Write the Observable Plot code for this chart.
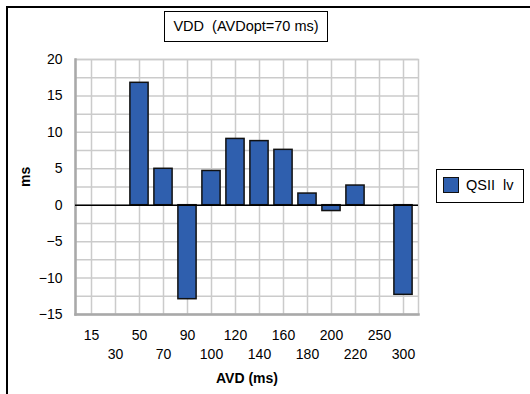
<!DOCTYPE html>
<html>
<head>
<meta charset="utf-8">
<script src="https://cdn.jsdelivr.net/npm/d3@7"></script>
<script src="https://cdn.jsdelivr.net/npm/@observablehq/plot@0.6"></script>
<style>
  html, body { margin: 0; padding: 0; background: #fff; }
  #wrap { position: relative; width: 530px; height: 394px; overflow: hidden; font-family: "Liberation Sans", Arial, sans-serif; }
  #outer { position: absolute; left: 6px; top: 6px; width: 700px; height: 700px; border-left: 2px solid #000; border-top: 2px solid #000; box-sizing: border-box; }
  #title { position: absolute; left: 164px; top: 11px; width: 164px; height: 31px; box-sizing: border-box; border: 1.5px solid #000; background: #fff;
           font-size: 14.5px; line-height: 28px; text-align: center; white-space: pre; color: #000; }
  #legend { position: absolute; left: 436px; top: 169px; width: 88px; height: 34px; box-sizing: border-box; border: 1.5px solid #000; background: #fff;
            font-size: 14.5px; white-space: pre; color: #000; }
  #legend .sw { position: absolute; left: 6px; top: 7px; width: 16px; height: 16px; box-sizing: border-box; border: 1.5px solid #111; }
  #legend .lab { position: absolute; left: 29px; top: 6px; line-height: 18px; }
  #chart { position: absolute; left: 0; top: 0; }
</style>
</head>
<body>
<div id="wrap">
  <div id="outer"></div>
  <div id="chart"></div>
  <div id="title"></div>
  <div id="legend"><div class="sw"></div><div class="lab"></div></div>
</div>
<script>
// ---- data ----
const titleText = "VDD  (AVDopt=70 ms)";
const seriesName = "QSII  lv";
const xLabel = "AVD (ms)";
const yLabel = "ms";
const categories = ["15", "30", "50", "70", "90", "100", "120", "140", "160", "180", "200", "220", "250", "300"];
const barCategories = ["50", "70", "90", "100", "120", "140", "160", "180", "200", "220", "300"];
const qsiiLv = [16.8, 5.0, -12.9, 4.7, 9.1, 8.8, 7.6, 1.6, -0.8, 2.7, -12.3];
const yTicks = [-15, -10, -5, 0, 5, 10, 15, 20];
const yGridLines = [-15, -12.5, -10, -7.5, -5, -2.5, 0, 2.5, 5, 7.5, 10, 12.5, 15, 17.5, 20];
const barColor = "#2f5fae";

const data = barCategories.map((c, i) => ({ avd: c, value: qsiiLv[i] }));
const rowA = categories.filter((c, i) => i % 2 === 0);
const rowB = categories.filter((c, i) => i % 2 === 1);

const gridColor = "#cbcbcb";

const chart = Plot.plot({
  width: 530,
  height: 394,
  marginLeft: 75,
  marginRight: 112,
  marginTop: 59,
  marginBottom: 80,
  style: { fontFamily: "'Liberation Sans', Arial, sans-serif", fontSize: "14px", color: "#000", background: "transparent", overflow: "visible" },
  x: { type: "band", domain: categories, padding: 0 },
  y: { domain: [-15, 20] },
  marks: [
    Plot.gridY(yGridLines, { stroke: gridColor, strokeOpacity: 1, strokeWidth: 1.5 }),
    Plot.gridX(categories, { stroke: gridColor, strokeOpacity: 1, strokeWidth: 1.5 }),
    Plot.frame({ stroke: gridColor, strokeWidth: 1.5 }),
    Plot.frame({ anchor: "left", stroke: "#a9a9a9", strokeWidth: 2.5 }),
    Plot.frame({ anchor: "bottom", stroke: "#a9a9a9", strokeWidth: 2.5 }),
    Plot.barY(data, { x: "avd", y: "value", fill: barColor, stroke: "#111", strokeWidth: 1.5, insetLeft: 2.9, insetRight: 2.9 }),
    Plot.ruleY([0], { stroke: "#000", strokeWidth: 1.5 }),
    Plot.axisY(yTicks, { tickSize: 0, tickPadding: 13, label: null }),
    Plot.axisX(rowA, { tickSize: 0, tickPadding: 16, label: null }),
    Plot.axisX(rowB, { tickSize: 0, tickPadding: 35, label: null }),
    Plot.text([xLabel], { frameAnchor: "bottom", lineAnchor: "top", dy: 59, fontWeight: "bold", fontSize: 14 }),
    Plot.text([yLabel], { frameAnchor: "left", rotate: -90, dx: -50, fontWeight: "bold", fontSize: 14 })
  ]
});
document.getElementById("chart").appendChild(chart);
document.getElementById("title").textContent = titleText;
document.querySelector("#legend .lab").textContent = seriesName;
document.querySelector("#legend .sw").style.background = barColor;
</script>
</body>
</html>
